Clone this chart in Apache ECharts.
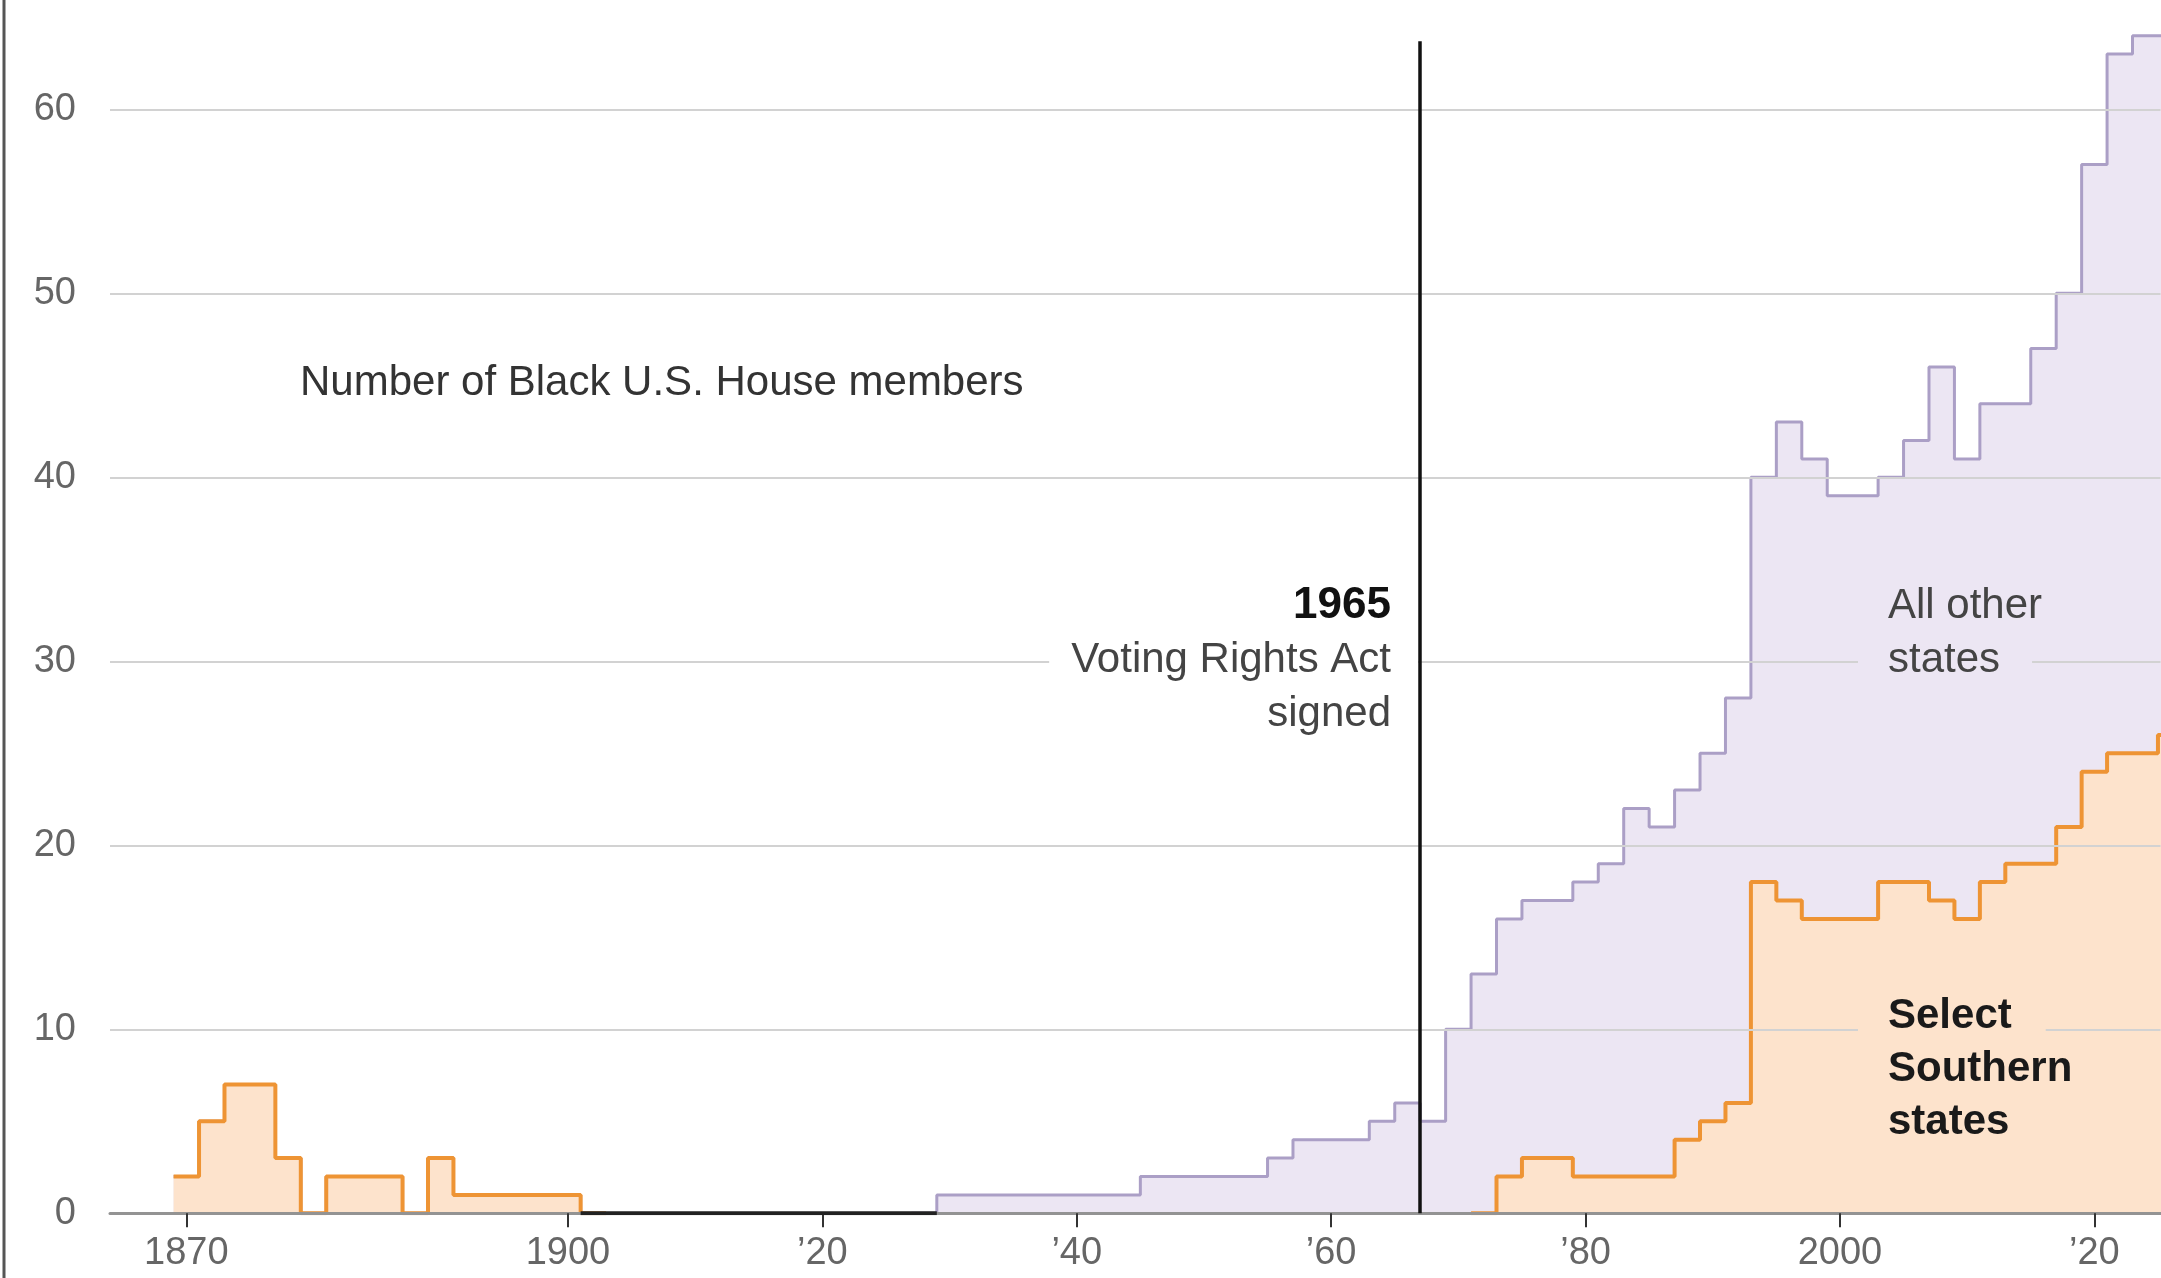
<!DOCTYPE html>
<html>
<head>
<meta charset="utf-8">
<script src="https://cdn.jsdelivr.net/npm/echarts@6/dist/echarts.min.js"></script>
<style>
html,body{margin:0;padding:0;background:#ffffff;}
#chart{width:2161px;height:1278px;}
</style>
</head>
<body>
<div id="chart"></div>
<script>
// Start year of each Congress
const congressYears = [
  1869,1871,1873,1875,1877,1879,1881,1883,1885,1887,1889,1891,1893,1895,1897,1899,
  1901,1903,1905,1907,1909,1911,1913,1915,1917,1919,1921,1923,1925,1927,
  1929,1931,1933,1935,1937,1939,1941,1943,1945,1947,1949,1951,1953,1955,1957,1959,1961,1963,1965,1967,
  1969,1971,1973,1975,1977,1979,1981,1983,1985,1987,1989,1991,1993,1995,1997,1999,
  2001,2003,2005,2007,2009,2011,2013,2015,2017,2019,2021,2023,2025
];
// Total Black U.S. House members (purple area: "All other states" shown above the Southern part)
const allStatesTotal = [
  2,5,7,7,3,0,2,2,2,0,3,1,1,1,1,1,
  0,0,0,0,0,0,0,0,0,0,0,0,0,0,
  1,1,1,1,1,1,1,1,2,2,2,2,2,3,4,4,4,5,6,5,
  10,13,16,17,17,18,19,22,21,23,25,28,40,43,41,39,
  39,40,42,46,41,44,44,47,50,57,63,64,64
];
// Members from select Southern states (orange area)
const southernStates = [
  2,5,7,7,3,0,2,2,2,0,3,1,1,1,1,1,
  0,0,0,0,0,0,0,0,0,0,0,0,0,0,
  0,0,0,0,0,0,0,0,0,0,0,0,0,0,0,0,0,0,0,0,
  0,0,2,3,3,2,2,2,2,4,5,6,18,17,16,16,
  16,18,18,17,16,18,19,19,21,24,25,25,26
];
const xTickValues = [1870,1900,1920,1940,1960,1980,2000,2020];
const xTickLabels = ['1870','1900','\u201920','\u201940','\u201960','\u201980','2000','\u201920'];
const yTickValues = [0,10,20,30,40,50,60];
const vraLabelYear = '1965';
const vraLineX = 1967;
const vraLineTop = 63.7;

const FONT = '"Liberation Sans", Arial, sans-serif';
const purpleLine = '#ab9fc6';
const purpleFill = '#ece6f3';
const orangeLine = '#ee9434';
const orangeFill = '#fde3cc';

// step data: each Congress value holds until the next Congress starts
function stepData(vals) {
  const n = vals.length;
  const d = congressYears.map((y, i) => {
    const v = vals[i];
    const interiorZero = v === 0 && i > 0 && vals[i - 1] === 0 && i + 1 < n && vals[i + 1] === 0;
    return [y, interiorZero ? null : v];
  });
  d.push([congressYears[n - 1] + 2, vals[n - 1]]);
  return d;
}
// long stretches with no Black members at all
function zeroData(vals) {
  const n = vals.length;
  return congressYears.map((y, i) => {
    const z = vals[i] === 0 && ((i > 0 && vals[i - 1] === 0) || (i + 1 < n && vals[i + 1] === 0));
    return [y, z ? 0 : null];
  });
}

const chart = echarts.init(document.getElementById('chart'), null, {renderer: 'canvas'});
chart.setOption({
  animation: false,
  backgroundColor: '#ffffff',
  grid: {left: 110, right: 0.5, top: 17.3, bottom: 64.7, containLabel: false},
  xAxis: {
    type: 'value', min: 1864, max: 2025.2, z: 4,
    axisLine: {show: true, onZero: false, lineStyle: {color: '#939393', width: 3}},
    axisTick: {show: true, customValues: xTickValues, length: 14, lineStyle: {color: '#333', width: 2}},
    axisLabel: {
      show: true, customValues: xTickValues, margin: 21,
      fontSize: 38, fontFamily: FONT, color: '#666',
      formatter: v => xTickLabels[xTickValues.indexOf(v)] || ''
    },
    splitLine: {show: false}
  },
  yAxis: {
    type: 'value', min: 0, max: 65, z: 3,
    axisLine: {show: false},
    axisTick: {show: false, customValues: yTickValues},
    axisLabel: {show: true, customValues: yTickValues, margin: 34, fontSize: 38, fontFamily: FONT, color: '#666'},
    splitLine: {show: true, lineStyle: {color: '#d2d2d2', width: 2}}
  },
  series: [
    {
      name: 'All other states', type: 'line', step: 'end', z: 1,
      data: stepData(allStatesTotal), showSymbol: false, symbol: 'none', connectNulls: false,
      lineStyle: {color: purpleLine, width: 3},
      areaStyle: {color: purpleFill, opacity: 1}
    },
    {
      name: 'Select Southern states', type: 'line', step: 'end', z: 2,
      data: stepData(southernStates), showSymbol: false, symbol: 'none', connectNulls: false,
      lineStyle: {color: orangeLine, width: 4},
      areaStyle: {color: orangeFill, opacity: 1}
    },
    {
      name: 'zero', type: 'line', step: 'end', z: 5,
      data: zeroData(allStatesTotal), showSymbol: false, symbol: 'none', connectNulls: false,
      lineStyle: {color: '#222', width: 4},
      markLine: {
        silent: true, symbol: ['none', 'none'], animation: false,
        label: {show: false},
        lineStyle: {color: '#111', width: 3.5, type: 'solid'},
        data: [[{coord: [vraLineX, 0]}, {coord: [vraLineX, vraLineTop]}]]
      }
    }
  ],
  graphic: [
    {type: 'line', z: 20, shape: {x1: 4, y1: 0, x2: 4, y2: 1278}, style: {stroke: '#555', lineWidth: 3}},
    {type: 'text', z: 20, x: 300, y: 383, style: {text: 'Number of Black U.S. House members', font: '42px ' + FONT, fill: '#333', align: 'left', verticalAlign: 'middle'}},
    {type: 'text', z: 20, x: 1391, y: 606, style: {text: vraLabelYear, font: 'bold 44px ' + FONT, fill: '#111', align: 'right', verticalAlign: 'middle'}},
    {type: 'text', z: 20, x: 1418, y: 660, style: {text: 'Voting Rights Act', font: '42px ' + FONT, fill: '#444', align: 'right', verticalAlign: 'middle', lineHeight: 50, backgroundColor: '#ffffff', padding: [0, 27, 0, 22]}},
    {type: 'text', z: 20, x: 1391, y: 714, style: {text: 'signed', font: '42px ' + FONT, fill: '#444', align: 'right', verticalAlign: 'middle'}},
    {type: 'text', z: 20, x: 1888, y: 606, style: {text: 'All other', font: '42px ' + FONT, fill: '#444', align: 'left', verticalAlign: 'middle'}},
    {type: 'text', z: 20, x: 1858, y: 660, style: {text: 'states', font: '42px ' + FONT, fill: '#444', align: 'left', verticalAlign: 'middle', lineHeight: 50, backgroundColor: purpleFill, padding: [0, 32, 0, 30]}},
    {type: 'text', z: 20, x: 1858, y: 1016, style: {text: 'Select', font: 'bold 42px ' + FONT, fill: '#1a1a1a', align: 'left', verticalAlign: 'middle', lineHeight: 54, backgroundColor: orangeFill, padding: [0, 34, 0, 30]}},
    {type: 'text', z: 20, x: 1888, y: 1069, style: {text: 'Southern', font: 'bold 42px ' + FONT, fill: '#1a1a1a', align: 'left', verticalAlign: 'middle'}},
    {type: 'text', z: 20, x: 1888, y: 1122, style: {text: 'states', font: 'bold 42px ' + FONT, fill: '#1a1a1a', align: 'left', verticalAlign: 'middle'}}
  ]
});
</script>
</body>
</html>
